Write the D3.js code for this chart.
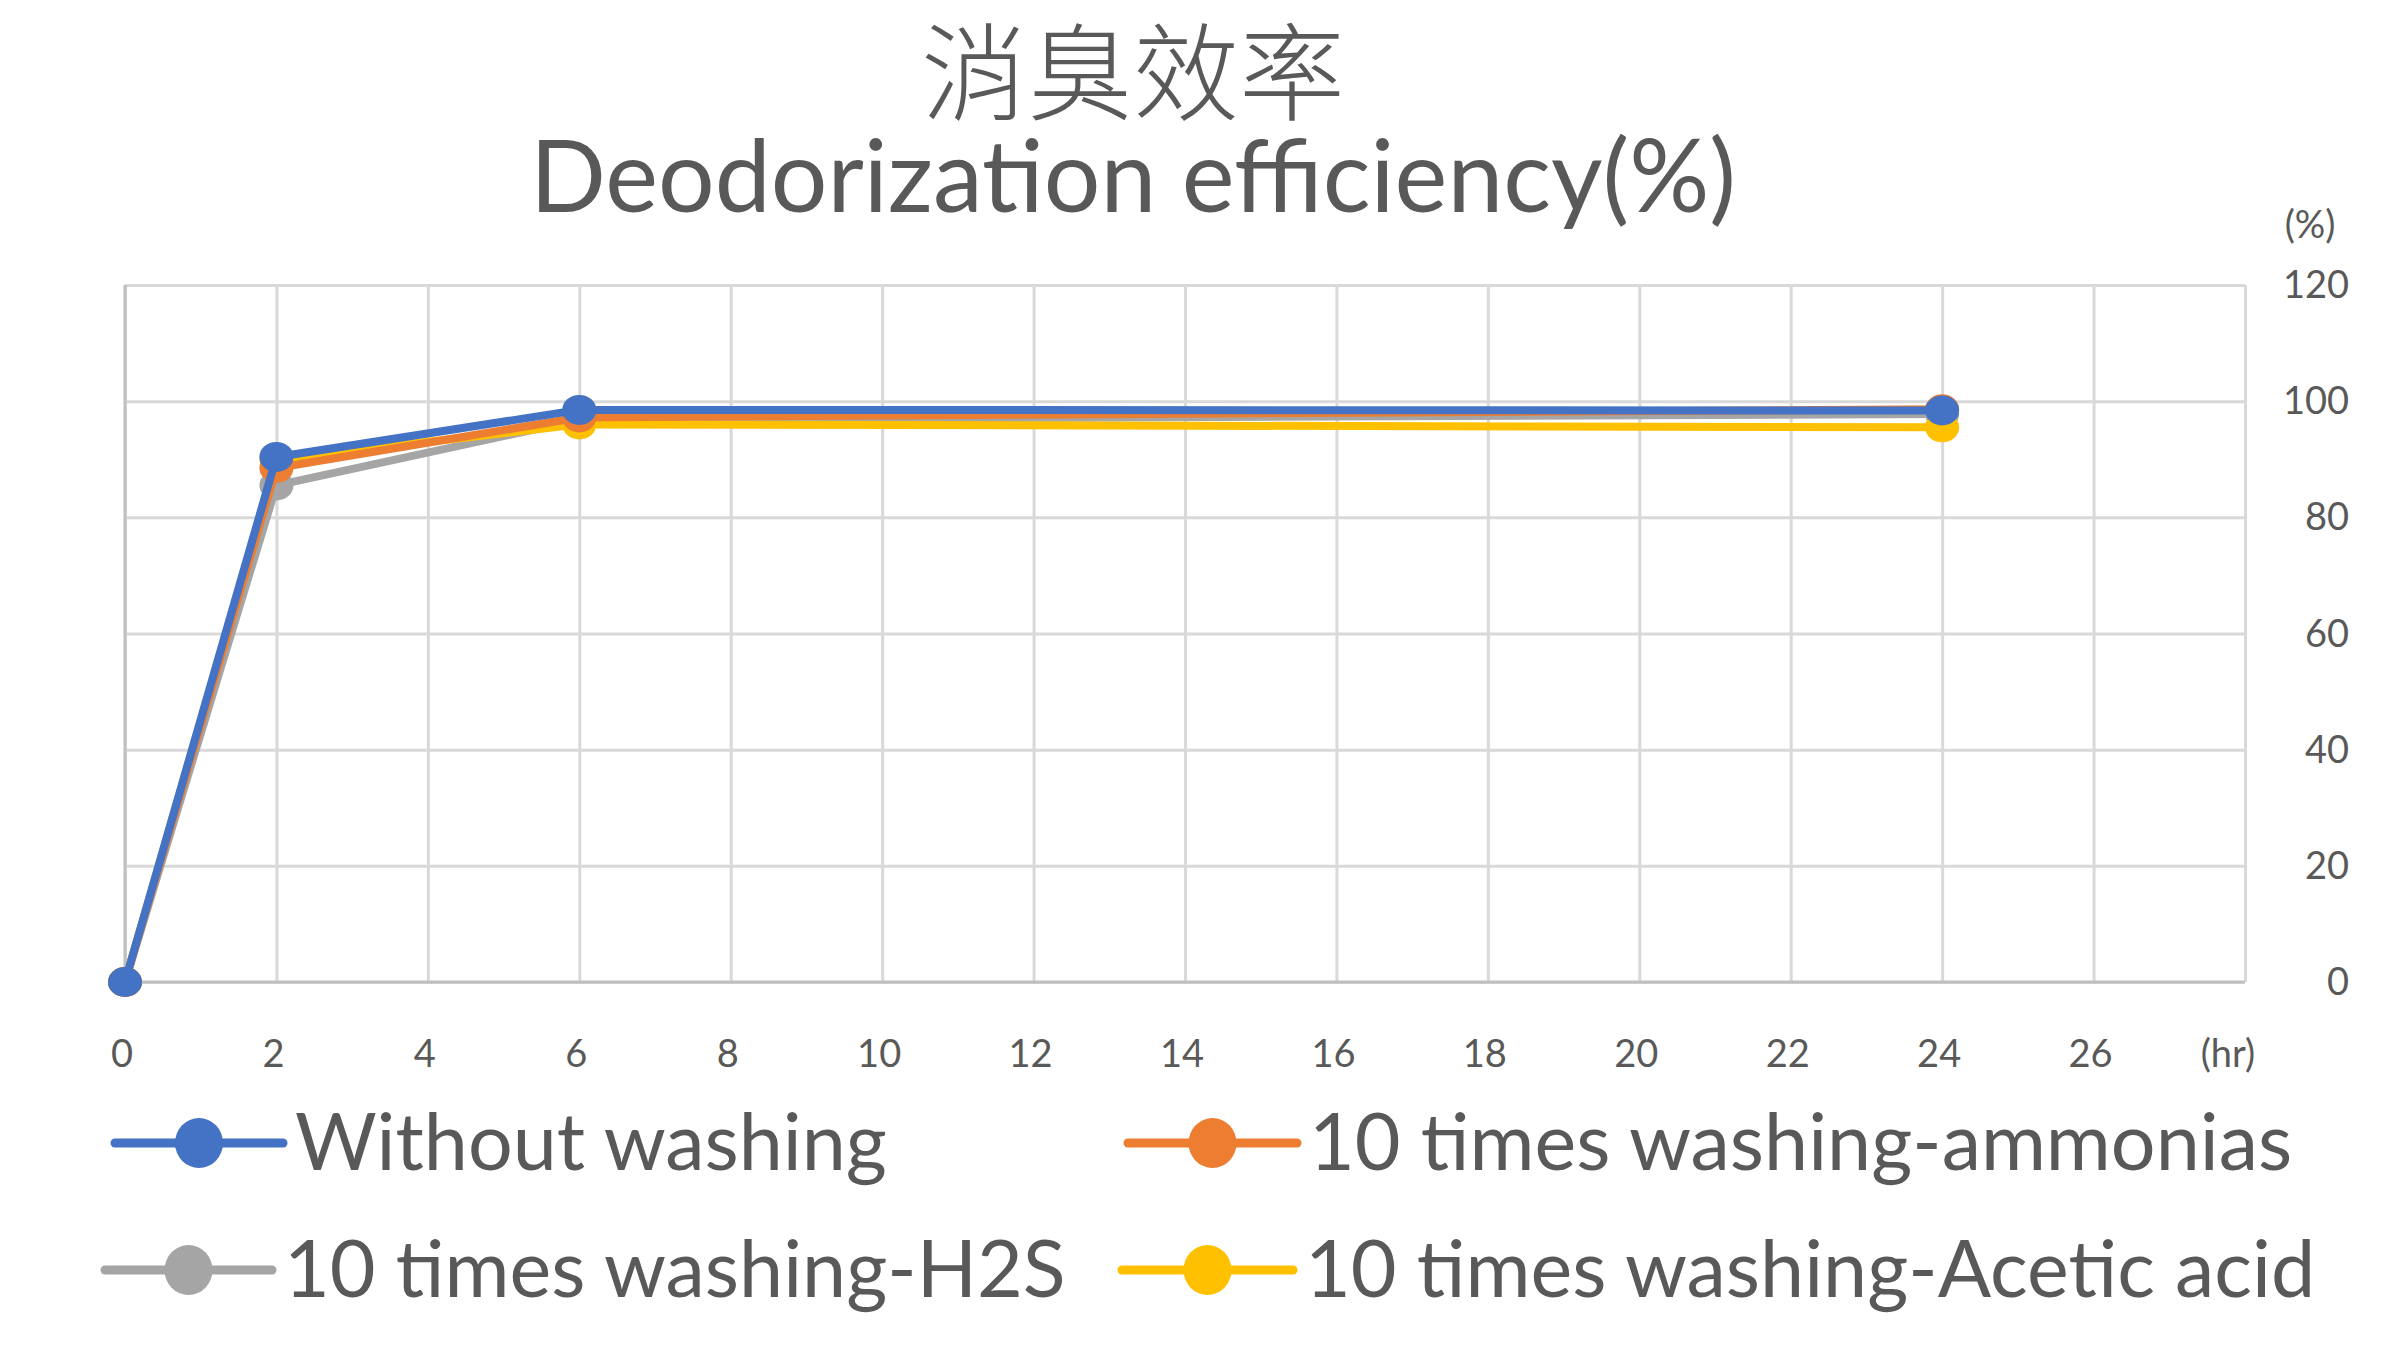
<!DOCTYPE html>
<html><head><meta charset="utf-8">
<script src="https://cdn.jsdelivr.net/npm/d3@7"></script>
<style>body{margin:0;background:#fff}</style></head>
<body><svg id="c" width="2400" height="1350"></svg>
<script>
const hours = [0, 2, 6, 24];
const withoutWashing = [0, 90.4, 98.5, 98.4];
const ammonias = [0, 88.5, 97.2, 98.6];
const h2s = [0, 85.5, 96.8, 97.8];
const aceticAcid = [0, 90, 96, 95.5];
const xTicks = [0,2,4,6,8,10,12,14,16,18,20,22,24,26];
const yTicks = [0,20,40,60,80,100,120];
const seriesNames = ["Without washing","10 times washing-ammonias","10 times washing-H2S","10 times washing-Acetic acid"];
const colors = ["#4472C4","#ED7D31","#A5A5A5","#FFC000"];
const allSeries = [withoutWashing, ammonias, h2s, aceticAcid];

const svg = d3.select("#c");
const F = "Lato, 'Noto Sans', sans-serif";
const L=125, R=2245, T=285, B=982;
const x = d3.scaleLinear().domain([0,28]).range([L,R]);
const y = d3.scaleLinear().domain([0,120]).range([B,T]);

svg.append("text").attr("x",1133).attr("y",112).attr("text-anchor","middle")
  .attr("font-family","'Noto Sans CJK TC'").attr("font-weight",300).attr("font-size",106).attr("fill","#595959").text("消臭效率");
svg.append("text").attr("x",1133).attr("y",212).attr("text-anchor","middle")
  .attr("font-family",F).attr("font-size",100).attr("fill","#595959").text("Deodorization efficiency(%)");

const g = svg.append("g");
g.append("g").attr("transform",`translate(0,${B})`)
 .call(d3.axisBottom(x).tickValues(d3.range(0,30,2)).tickSize(-(B-T)).tickFormat(""))
 .call(a=>{a.select(".domain").remove(); a.selectAll("line").attr("stroke","#d9d9d9").attr("stroke-width",3);});
g.append("g").attr("transform",`translate(${R},0)`)
 .call(d3.axisRight(y).tickValues(yTicks).tickSize(-(R-L)).tickFormat(""))
 .call(a=>{a.select(".domain").remove(); a.selectAll("line").attr("stroke","#d9d9d9").attr("stroke-width",3);});
g.append("line").attr("x1",L).attr("x2",L).attr("y1",T).attr("y2",B).attr("stroke","#bfbfbf").attr("stroke-width",3);
g.append("line").attr("x1",L).attr("x2",R).attr("y1",B).attr("y2",B).attr("stroke","#bfbfbf").attr("stroke-width",3);

svg.selectAll(".xl").data(xTicks).join("text").attr("x",d=>x(d)-3).attr("y",1067)
  .attr("text-anchor","middle").attr("font-family",F).attr("font-size",38).attr("fill","#595959").text(d=>d);
svg.append("text").attr("x",2228).attr("y",1067).attr("text-anchor","middle").attr("font-family",F).attr("font-size",38).attr("fill","#595959").text("(hr)");
svg.selectAll(".yl").data(yTicks).join("text").attr("x",2349).attr("y",d=>y(d)+13)
  .attr("text-anchor","end").attr("font-family",F).attr("font-size",38).attr("fill","#595959").text(d=>d);
svg.append("text").attr("x",2310).attr("y",238).attr("text-anchor","middle").attr("font-family",F).attr("font-size",38).attr("fill","#595959").text("(%)");

const line = d3.line().x((d,i)=>x(hours[i])).y(d=>y(d));
[2,3,1,0].forEach(k=>{
  const s = svg.append("g");
  s.append("path").datum(allSeries[k]).attr("d",line).attr("fill","none").attr("stroke",colors[k]).attr("stroke-width",8).attr("stroke-linejoin","round");
  s.selectAll("ellipse").data(allSeries[k]).join("ellipse").attr("cx",(d,i)=>x(hours[i])).attr("cy",d=>y(d)).attr("rx",17).attr("ry",15).attr("fill",colors[k]);
});

const leg = [[115,283,1170],[1128,1297,1170],[105,272,1297],[1122,1293,1297]];
leg.forEach((p,k)=>{
  const [a,b,yy]=p, cy=yy-27;
  svg.append("line").attr("x1",a).attr("x2",b).attr("y1",cy).attr("y2",cy).attr("stroke",colors[k]).attr("stroke-width",9).attr("stroke-linecap","round");
  svg.append("ellipse").attr("cx",(a+b)/2).attr("cy",cy).attr("rx",24).attr("ry",25).attr("fill",colors[k]);
  svg.append("text").attr("x",b+12).attr("y",yy).attr("font-family",F).attr("font-size",79).attr("fill","#595959").text(seriesNames[k]);
});
</script></body></html>
